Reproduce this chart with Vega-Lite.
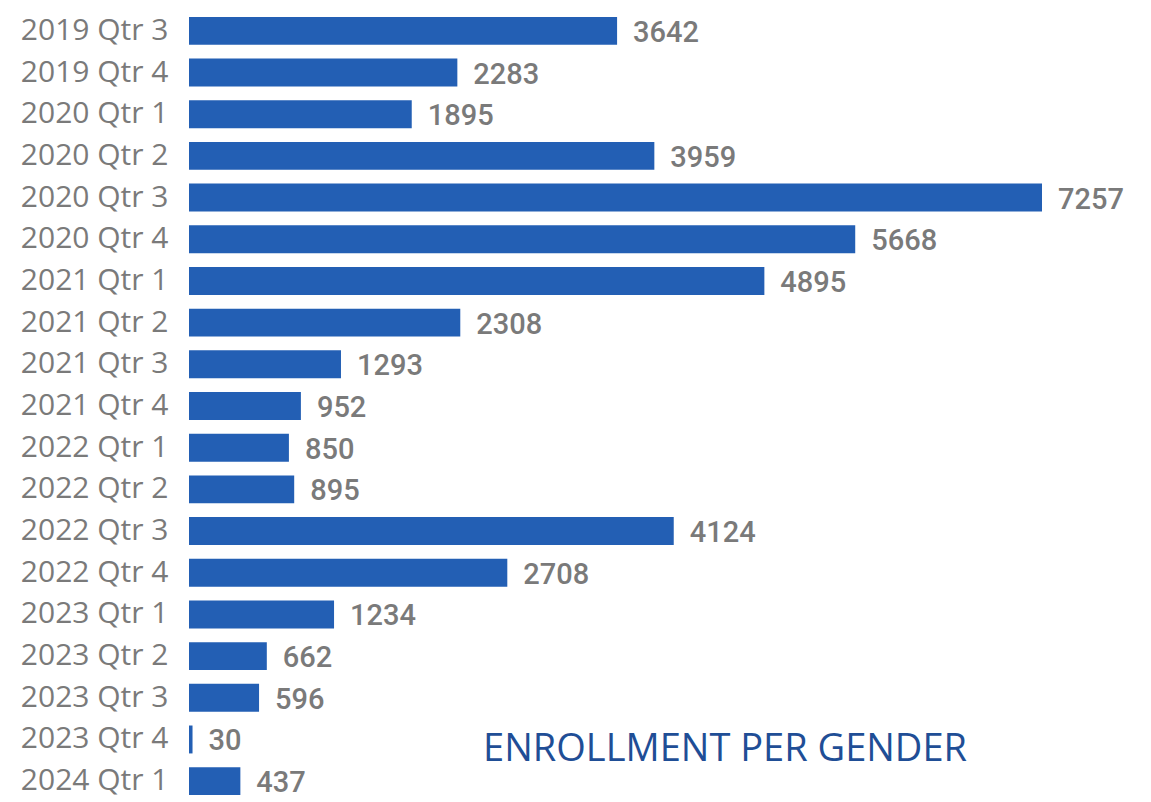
{
  "$schema": "https://vega.github.io/schema/vega-lite/v6.json",
  "autosize": "none",
  "padding": {"left": 189, "top": 10, "right": 109, "bottom": 0},
  "width": 853,
  "height": 792,
  "background": "white",
  "config": {"view": {"stroke": null}},
  "title": {
    "text": "ENROLLMENT PER GENDER",
    "orient": "bottom",
    "anchor": "end",
    "frame": "group",
    "baseline": "top",
    "offset": -71,
    "dx": -75,
    "font": "Open Sans",
    "fontSize": 38,
    "fontWeight": "normal",
    "color": "#1F4E96"
  },
  "data": {"values": [
    {"q": "2019 Qtr 3", "v": 3642},
    {"q": "2019 Qtr 4", "v": 2283},
    {"q": "2020 Qtr 1", "v": 1895},
    {"q": "2020 Qtr 2", "v": 3959},
    {"q": "2020 Qtr 3", "v": 7257},
    {"q": "2020 Qtr 4", "v": 5668},
    {"q": "2021 Qtr 1", "v": 4895},
    {"q": "2021 Qtr 2", "v": 2308},
    {"q": "2021 Qtr 3", "v": 1293},
    {"q": "2021 Qtr 4", "v": 952},
    {"q": "2022 Qtr 1", "v": 850},
    {"q": "2022 Qtr 2", "v": 895},
    {"q": "2022 Qtr 3", "v": 4124},
    {"q": "2022 Qtr 4", "v": 2708},
    {"q": "2023 Qtr 1", "v": 1234},
    {"q": "2023 Qtr 2", "v": 662},
    {"q": "2023 Qtr 3", "v": 596},
    {"q": "2023 Qtr 4", "v": 30},
    {"q": "2024 Qtr 1", "v": 437}
  ]},
  "encoding": {
    "y": {
      "field": "q", "type": "nominal", "sort": null,
      "scale": {"paddingInner": 0.33, "paddingOuter": 0.165},
      "axis": {
        "title": null, "ticks": false, "domain": false, "labelPadding": 21,
        "labelFont": "Open Sans", "labelFontSize": 30, "labelColor": "#7A7A7A"
      }
    },
    "x": {
      "field": "v", "type": "quantitative",
      "scale": {"domain": [0, 7257], "nice": false, "zero": true},
      "axis": null
    }
  },
  "layer": [
    {"mark": {"type": "bar", "color": "#235FB4"}},
    {
      "mark": {"type": "text", "align": "left", "baseline": "middle", "dx": 16, "dy": 2,
               "font": "Roboto", "fontSize": 29, "fontWeight": 500, "color": "#7A7A7A"},
      "encoding": {"text": {"field": "v", "type": "quantitative", "format": "d"}}
    }
  ]
}
